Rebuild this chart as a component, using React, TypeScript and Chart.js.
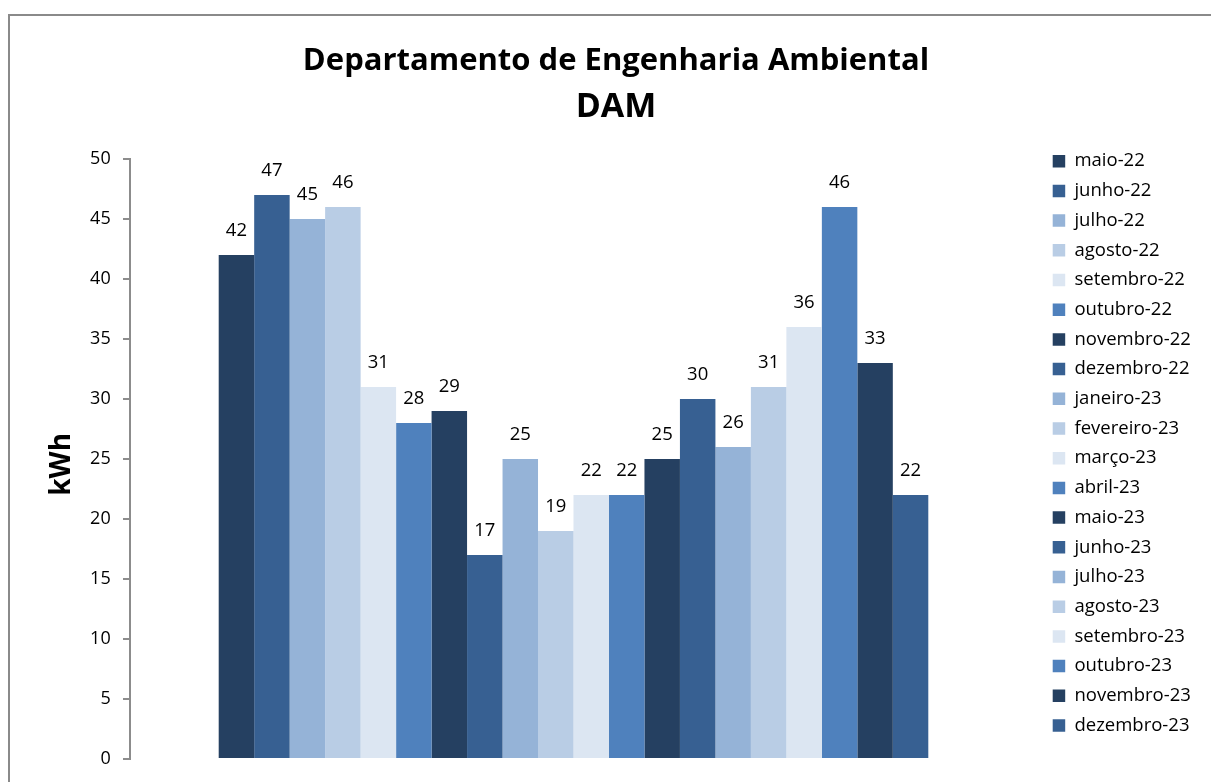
import React, { useEffect, useRef } from 'react';
import { Chart, registerables } from 'chart.js';

Chart.register(...registerables);

const titleText = 'Departamento de Engenharia Ambiental';
const subtitleText = 'DAM';
const yAxisTitle = 'kWh';
const months = [
  'maio-22', 'junho-22', 'julho-22', 'agosto-22', 'setembro-22', 'outubro-22',
  'novembro-22', 'dezembro-22', 'janeiro-23', 'fevereiro-23', 'março-23', 'abril-23',
  'maio-23', 'junho-23', 'julho-23', 'agosto-23', 'setembro-23', 'outubro-23',
  'novembro-23', 'dezembro-23',
];
const values = [42, 47, 45, 46, 31, 28, 29, 17, 25, 19, 22, 22, 25, 30, 26, 31, 36, 46, 33, 22];
const palette = ['#254061', '#376092', '#95B3D7', '#B9CDE5', '#DCE6F2', '#4F81BD'];
const yTicks = [0, 5, 10, 15, 20, 25, 30, 35, 40, 45, 50];

const FONT = '"Open Sans"';
const AXIS_COLOR = '#8c8c8c';
const CANVAS_W = 1212;
const CANVAS_H = 766;
const LEGEND_FONT = 18.5;
const LEGEND_BOX = 12.5;
const LEGEND_PAD = 11.2;
const PLOT_RIGHT = 1007;
const GAP_AXIS_W = 24.5;
const VERTICAL_BOXES = 4;

const valueLabels = {
  id: 'valueLabels',
  afterDatasetsDraw(chart: any) {
    const { ctx } = chart;
    ctx.save();
    ctx.font = `18.5px ${FONT}`;
    ctx.fillStyle = '#000';
    ctx.textAlign = 'center';
    ctx.textBaseline = 'alphabetic';
    chart.data.datasets.forEach((ds: any, i: number) => {
      const meta = chart.getDatasetMeta(i);
      meta.data.forEach((el: any, j: number) => {
        ctx.fillText(String(ds.data[j]), el.x, el.y - 18.5);
      });
    });
    ctx.restore();
  },
};

const axisLine = {
  id: 'axisLine',
  afterDraw(chart: any) {
    const { ctx } = chart;
    const y = chart.scales.y;
    ctx.save();
    ctx.strokeStyle = AXIS_COLOR;
    ctx.lineWidth = 2;
    ctx.beginPath();
    ctx.moveTo(y.right, y.getPixelForValue(yTicks[0]) + 1);
    ctx.lineTo(y.right, y.getPixelForValue(yTicks[yTicks.length - 1]) - 1);
    ctx.stroke();
    ctx.restore();
  },
};

export default function App() {
  const ref = useRef<HTMLCanvasElement>(null);

  useEffect(() => {
    if (!ref.current) return;
    const mctx = ref.current.getContext('2d')!;
    mctx.font = `${LEGEND_FONT}px ${FONT}`;
    const maxText = Math.max(...months.map((m) => mctx.measureText(m).width));
    const legendNatural = LEGEND_BOX + LEGEND_FONT / 2 + maxText + LEGEND_PAD + 10;
    const legendW = Math.min(legendNatural, CANVAS_W / 2 / VERTICAL_BOXES);
    const fillerW = Math.max(0, CANVAS_W - PLOT_RIGHT - GAP_AXIS_W - legendW);

    const chart = new Chart(ref.current, {
      type: 'bar',
      data: {
        labels: [''],
        datasets: months.map((m, i) => ({
          label: m,
          data: [values[i]],
          backgroundColor: palette[i % palette.length],
          borderWidth: 0,
          categoryPercentage: 0.8,
          barPercentage: 1,
        })),
      },
      options: {
        responsive: false,
        devicePixelRatio: 1,
        animation: false,
        events: [],
        layout: { padding: { left: 0, right: 0, top: 0, bottom: 22 } },
        plugins: {
          title: {
            display: true,
            text: titleText,
            color: '#000',
            font: { family: FONT, size: 31, weight: 'bold', lineHeight: 1.2 },
            padding: { top: 26.6, bottom: 0 },
          },
          subtitle: {
            display: true,
            text: subtitleText,
            color: '#000',
            font: { family: FONT, size: 34, weight: 'bold', lineHeight: 1.2 },
            padding: { top: 7.3, bottom: 12.85 },
          },
          legend: {
            display: true,
            position: 'right',
            align: 'start',
            fullSize: false,
            labels: {
              boxWidth: LEGEND_BOX,
              boxHeight: LEGEND_BOX,
              padding: LEGEND_PAD,
              color: '#000',
              font: { family: FONT, size: LEGEND_FONT },
            },
          },
          tooltip: { enabled: false },
        },
        scales: {
          x: { display: false },
          y: {
            min: 0,
            max: 51.518,
            afterBuildTicks: (s: any) => {
              s.ticks = yTicks.map((v) => ({ value: v }));
            },
            afterFit: (s: any) => {
              s.width = 120;
            },
            border: { display: false },
            grid: {
              display: true,
              drawOnChartArea: false,
              drawTicks: true,
              tickLength: 7,
              color: AXIS_COLOR,
              lineWidth: 2,
            },
            ticks: {
              color: '#000',
              padding: 12.3,
              font: { family: FONT, size: 18 },
            },
            title: {
              display: true,
              text: yAxisTitle + '    ',
              color: '#000',
              font: { family: FONT, size: 28, weight: 'bold' },
              padding: { top: 34.9, bottom: 0 },
            },
          },
          yGap: {
            type: 'linear',
            position: 'right',
            display: true,
            weight: 0,
            grid: { display: false },
            border: { display: false },
            ticks: { display: false },
            afterFit: (s: any) => {
              s.width = GAP_AXIS_W;
            },
          },
          yFiller: {
            type: 'linear',
            position: 'right',
            display: true,
            weight: 2000,
            grid: { display: false },
            border: { display: false },
            ticks: { display: false },
            afterFit: (s: any) => {
              s.width = fillerW;
            },
          },
        },
      },
      plugins: [valueLabels, axisLine],
    } as any);
    return () => chart.destroy();
  }, []);

  return (
    <div
      style={{
        position: 'fixed',
        left: 8,
        top: 14,
        width: 1300,
        height: 900,
        borderTop: '2px solid #8a8a8a',
        borderLeft: '2px solid #8a8a8a',
        background: '#fff',
      }}
    >
      <canvas ref={ref} width={CANVAS_W} height={CANVAS_H} style={{ display: 'block' }} />
    </div>
  );
}
